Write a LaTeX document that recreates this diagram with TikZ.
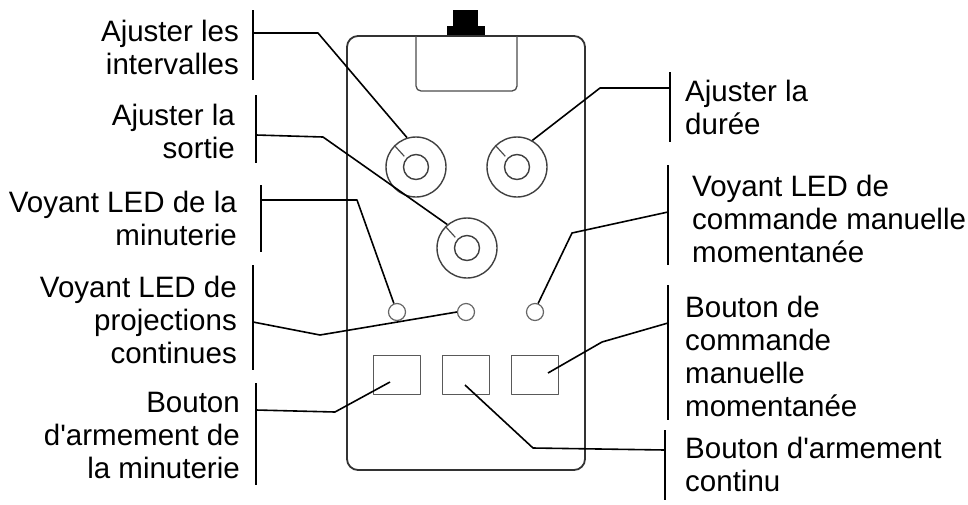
\documentclass[tikz,border=0pt]{standalone}
\usepackage{fontspec}
\setmainfont{Liberation Sans}

\begin{document}
\begin{tikzpicture}[x=1pt,y=-1pt,line join=round,
    lbl/.style={font=\fontsize{29.5}{33}\selectfont,inner sep=0pt},
    lblL/.style={lbl,align=right,anchor=east},
    lblR/.style={lbl,align=left,anchor=west},
    knob/.style={circle,draw=black!75,line width=1.4pt,minimum size=60pt,inner sep=0pt},
    knobin/.style={circle,draw=black!75,line width=1.4pt,minimum size=25pt,inner sep=0pt},
    led/.style={circle,draw=black!60,line width=1.2pt,minimum size=17pt,inner sep=0pt},
    btn/.style={draw=black!65,line width=1.2pt,minimum width=47pt,minimum height=39pt,inner sep=0pt},
    bar/.style={line width=2pt},
    lead/.style={line width=1.6pt}]
    \useasboundingbox (0,0) rectangle (968,504);

    % Boitier
    \fill (453,10) rectangle (478,30);
    \fill (447,26) rectangle (485,36);
    \draw[line width=1.8pt,draw=black!80,rounded corners=11pt] (347,36) rectangle (585,470);
    \draw[line width=1.3pt,draw=black!70,rounded corners=5pt] (416,36) -- (416,91) -- (517,91) -- (517,36);

    % Boutons rotatifs
    \node[knob] (kI) at (416,167) {};
    \node[knobin] at (416,167) {};
    \node[knob] (kD) at (517,167) {};
    \node[knobin] at (517,167) {};
    \node[knob] (kS) at (467,248) {};
    \node[knobin] at (467,248) {};
    \foreach \k in {kI,kD,kS}
        \draw[line width=1.2pt,black!70] (\k.135) -- ++(10,11);

    % Voyants
    \node[led] (ledT) at (397,312) {};
    \node[led] (ledC) at (466,312) {};
    \node[led] (ledM) at (535,312) {};

    % Boutons
    \node[btn] (bT) at (397,375) {};
    \node[btn] (bC) at (466,375) {};
    \node[btn] (bM) at (535,375) {};

    % Etiquettes gauche
    \node[lblL] (tI) at (239,47) {Ajuster les\\intervalles};
    \node[lblL] (tS) at (235,131) {Ajuster la\\sortie};
    \node[lblL] (tT) at (237,218) {Voyant LED de la\\minuterie};
    \node[lblL] (tC) at (237,320) {Voyant LED de\\projections\\continues};
    \node[lblL] (tA) at (240,435) {Bouton\\d\textquotesingle armement de\\la minuterie};

    % Etiquettes droite
    \node[lblR] (tD) at (685,107) {Ajuster la\\durée};
    \node[lblR] (tM) at (692,219) {Voyant LED de\\commande manuelle\\momentanée};
    \node[lblR] (tB) at (685,356) {Bouton de\\commande\\manuelle\\momentanée};
    \node[lblR] (tN) at (685,464) {Bouton d\textquotesingle armement\\continu};

    % Barres
    \draw[bar] (253,10) -- (253,80);
    \draw[bar] (256,95) -- (256,163);
    \draw[bar] (261,185) -- (261,252);
    \draw[bar] (253,265) -- (253,370);
    \draw[bar] (256,383) -- (256,485);
    \draw[bar] (670,72) -- (670,142);
    \draw[bar] (668,165) -- (668,265);
    \draw[bar] (668,285) -- (668,420);
    \draw[bar] (665,430) -- (665,500);

    % Renvois
    \draw[lead] (253,33) -- (318,33) -- (kI.107);
    \draw[lead] (256,135) -- (323,137) -- (kS.130);
    \draw[lead] (261,200) -- (357,200) -- (ledT.110);
    \draw[lead] (253,322) -- (320,335) -- (ledC.west);
    \draw[lead] (256,410) -- (335,412) -- ([shift={(-7,7)}]bT.center);
    \draw[lead] (670,88) -- (600,88) -- (kD.60);
    \draw[lead] (668,212) -- (572,233) -- (ledM.70);
    \draw[lead] (668,323) -- (602,342) -- ([shift={(13,-2)}]bM.center);
    \draw[lead] (665,450) -- (533,448) -- ([shift={(-1,10)}]bC.center);
\end{tikzpicture}
\end{document}
